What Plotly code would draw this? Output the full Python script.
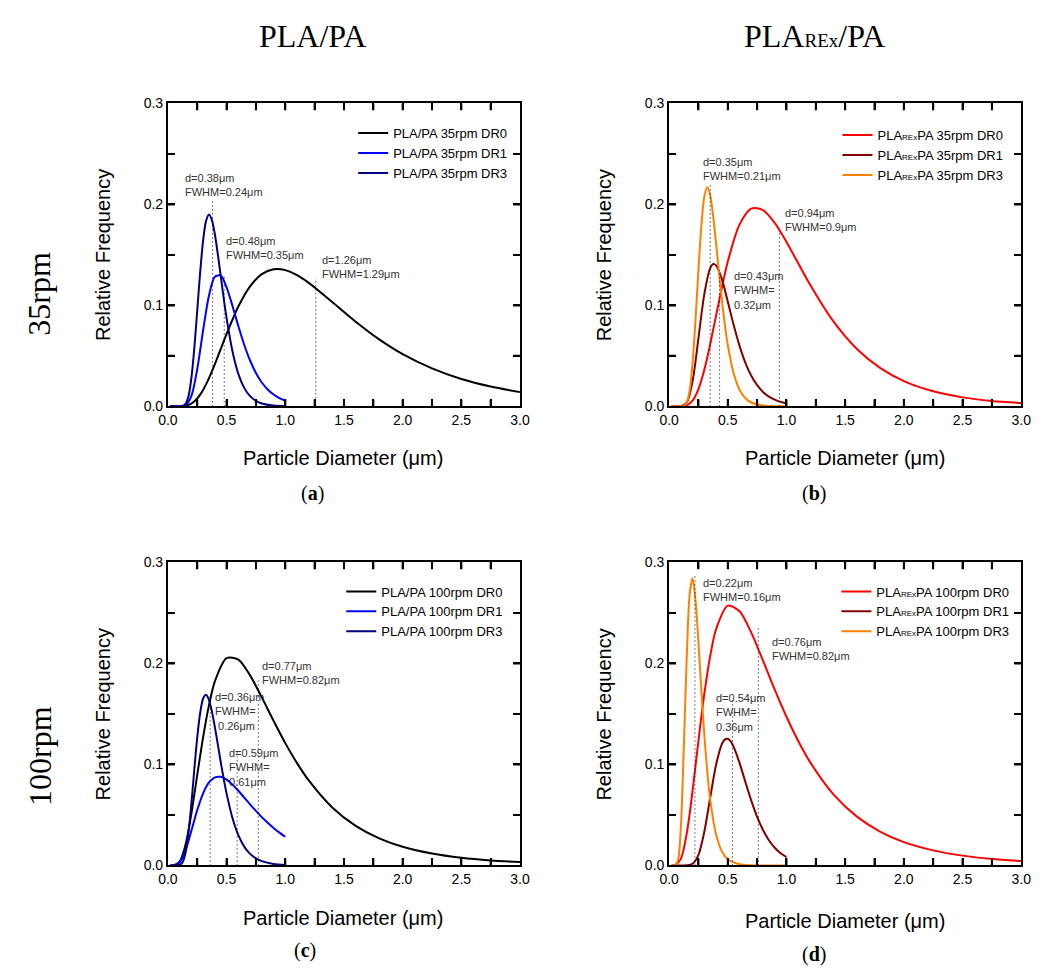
import plotly.graph_objects as go

# ---------------- data ----------------
x_long = [0.02, 0.05, 0.1, 0.15, 0.2, 0.25, 0.3, 0.35, 0.4, 0.5, 0.6, 0.7, 0.8, 0.9, 1.0,
          1.1, 1.2, 1.4, 1.6, 1.8, 2.0, 2.25, 2.5, 2.75, 3.0]

# (a) PLA/PA 35rpm
a_dr0_y = [0, 0, 0.0000, 0.0006, 0.0027, 0.0078, 0.0163, 0.0280, 0.0418, 0.0718, 0.0989, 0.1189,
           0.1309, 0.1357, 0.1349, 0.1299, 0.1223, 0.1033, 0.0838, 0.0663, 0.0517, 0.0376,
           0.0271, 0.0196, 0.0141]
a_dr1_x = [0.02, 0.1, 0.15, 0.2, 0.25, 0.3, 0.35, 0.4, 0.45, 0.5, 0.55, 0.6, 0.65, 0.7, 0.75,
           0.8, 0.85, 0.9, 0.95, 1.0]
a_dr1_y = [0, 0.0000, 0.0011, 0.0104, 0.0370, 0.0754, 0.1098, 0.1284, 0.1296, 0.1178, 0.0995,
           0.0795, 0.0610, 0.0454, 0.0331, 0.0236, 0.0167, 0.0117, 0.0081, 0.0056]
a_dr3_x = [0.02, 0.1, 0.125, 0.15, 0.175, 0.2, 0.225, 0.25, 0.275, 0.3, 0.325, 0.35, 0.375, 0.4,
           0.425, 0.45, 0.475, 0.5, 0.55, 0.6, 0.65, 0.7, 0.75, 0.8, 0.9, 1.0]
a_dr3_y = [0, 0.0000, 0.0003, 0.0024, 0.0101, 0.0280, 0.0576, 0.0951, 0.1331, 0.1643, 0.1837,
           0.1900, 0.1845, 0.1704, 0.1509, 0.1292, 0.1074, 0.0873, 0.0545, 0.0322, 0.0183,
           0.0101, 0.0055, 0.0029, 0.0008, 0.0002]

# (b) PLA_REx/PA 35rpm
b_dr0_y = [0, 0, 0.0000, 0.0010, 0.0056, 0.0170, 0.0362, 0.0615, 0.0899, 0.1434, 0.1800, 0.1958,
           0.1944, 0.1817, 0.1628, 0.1417, 0.1207, 0.0841, 0.0568, 0.0378, 0.0250, 0.0149,
           0.0089, 0.0054, 0.0033]
b_dr1_x = [0.02, 0.1, 0.15, 0.2, 0.25, 0.3, 0.35, 0.375, 0.4, 0.45, 0.5, 0.55, 0.6, 0.65, 0.7,
           0.75, 0.8, 0.85, 0.9, 0.95, 1.0]
b_dr1_y = [0, 0.0001, 0.0038, 0.0251, 0.0675, 0.1112, 0.1369, 0.1409, 0.1396, 0.1257, 0.1037,
           0.0805, 0.0599, 0.0431, 0.0303, 0.0210, 0.0143, 0.0097, 0.0066, 0.0044, 0.0029]
b_dr3_x = [0.02, 0.1, 0.125, 0.15, 0.175, 0.2, 0.225, 0.25, 0.275, 0.3, 0.325, 0.35, 0.375, 0.4,
           0.425, 0.45, 0.475, 0.5, 0.55, 0.6, 0.65, 0.7, 0.8, 0.9, 1.0]
b_dr3_y = [0, 0.0000, 0.0004, 0.0036, 0.0157, 0.0431, 0.0858, 0.1353, 0.1792, 0.2077, 0.2170,
           0.2090, 0.1886, 0.1615, 0.1325, 0.1050, 0.0808, 0.0608, 0.0325, 0.0165, 0.0081,
           0.0038, 0.0008, 0.0002, 0.0000]

# (c) PLA/PA 100rpm
c_dr0_y = [0, 0.0001, 0.0037, 0.0204, 0.0514, 0.0896, 0.1271, 0.1587, 0.1823, 0.2053, 0.2038,
           0.1882, 0.1664, 0.1432, 0.1211, 0.1013, 0.0841, 0.0574, 0.0391, 0.0267, 0.0184,
           0.0117, 0.0075, 0.0049, 0.0033]
c_dr1_x = [0.02, 0.05, 0.1, 0.15, 0.2, 0.25, 0.3, 0.35, 0.4, 0.45, 0.5, 0.55, 0.6, 0.65, 0.7,
           0.75, 0.8, 0.85, 0.9, 0.95, 1.0]
c_dr1_y = [0, 0.0001, 0.0029, 0.0149, 0.0344, 0.0548, 0.0714, 0.0821, 0.0872, 0.0877, 0.0850,
           0.0800, 0.0739, 0.0672, 0.0605, 0.0540, 0.0478, 0.0422, 0.0371, 0.0325, 0.0284]
c_dr3_x = [0.02, 0.1, 0.125, 0.15, 0.175, 0.2, 0.225, 0.25, 0.275, 0.3, 0.325, 0.35, 0.375, 0.4,
           0.425, 0.45, 0.475, 0.5, 0.55, 0.6, 0.65, 0.7, 0.75, 0.8, 0.9, 1.0]
c_dr3_y = [0, 0.0004, 0.0031, 0.0125, 0.0321, 0.0613, 0.0952, 0.1269, 0.1512, 0.1653, 0.1690,
           0.1638, 0.1523, 0.1370, 0.1198, 0.1024, 0.0860, 0.0711, 0.0469, 0.0299, 0.0186,
           0.0114, 0.0069, 0.0042, 0.0015, 0.0005]

# (d) PLA_REx/PA 100rpm
d_dr0_y = [0, 0.0002, 0.0065, 0.0315, 0.0742, 0.1236, 0.1699, 0.2073, 0.2339, 0.2573, 0.2517,
           0.2305, 0.2028, 0.1741, 0.1472, 0.1232, 0.1025, 0.0704, 0.0483, 0.0333, 0.0231,
           0.0149, 0.0097, 0.0064, 0.0043]
d_dr1_x = [0.02, 0.1, 0.15, 0.2, 0.25, 0.3, 0.35, 0.4, 0.45, 0.475, 0.5, 0.525, 0.55, 0.6, 0.65,
           0.7, 0.75, 0.8, 0.85, 0.9, 0.95, 1.0]
d_dr1_y = [0, 0.0000, 0.0001, 0.0016, 0.0105, 0.0334, 0.0671, 0.0996, 0.1203, 0.1248, 0.1254,
           0.1228, 0.1174, 0.1015, 0.0826, 0.0641, 0.0480, 0.0350, 0.0249, 0.0175, 0.0121, 0.0083]
d_dr3_x = [0.02, 0.05, 0.075, 0.1, 0.125, 0.15, 0.175, 0.2, 0.225, 0.25, 0.275, 0.3, 0.325, 0.35,
           0.4, 0.45, 0.5, 0.6, 0.7, 0.8, 1.0]
d_dr3_y = [0, 0.0001, 0.0047, 0.0380, 0.1154, 0.2063, 0.2683, 0.2843, 0.2626, 0.2204, 0.1729,
           0.1292, 0.0931, 0.0654, 0.0306, 0.0138, 0.0061, 0.0012, 0.0002, 0.0000, 0.0000]

# tick positions and labels
x_tickvals = [0, 0.25, 0.5, 0.75, 1.0, 1.25, 1.5, 1.75, 2.0, 2.25, 2.5, 2.75, 3.0]
x_ticktext = ["0.0", "", "0.5", "", "1.0", "", "1.5", "", "2.0", "", "2.5", "", "3.0"]
y_tickvals = [0, 0.05, 0.1, 0.15, 0.2, 0.25, 0.3]
y_ticktext = ["0.0", "", "0.1", "", "0.2", "", "0.3"]

# median diameters (dotted lines) and the height where each dotted line stops
a_marks = [(0.38, 0.203), (0.48, 0.128), (1.26, 0.127)]
b_marks = [(0.35, 0.219), (0.43, 0.135), (0.94, 0.173)]
c_marks = [(0.36, 0.170), (0.59, 0.112), (0.77, 0.183)]
d_marks = [(0.22, 0.287), (0.54, 0.164), (0.76, 0.235)]

# text labels: (text, x, y)
a_notes = [("d=0.38μm<br>FWHM=0.24μm", 0.126, 0.219),
           ("d=0.48μm<br>FWHM=0.35μm", 0.475, 0.157),
           ("d=1.26μm<br>FWHM=1.29μm", 1.297, 0.138)]
b_notes = [("d=0.35μm<br>FWHM=0.21μm", 0.271, 0.235),
           ("d=0.43μm<br>FWHM=<br>0.32μm", 0.536, 0.115),
           ("d=0.94μm<br>FWHM=0.9μm", 0.970, 0.185)]
c_notes = [("d=0.77μm<br>FWHM=0.82μm", 0.782, 0.191),
           ("d=0.36μm<br>FWHM=<br>&nbsp;0.26μm", 0.388, 0.152),
           ("d=0.59μm<br>FWHM=<br>0.61μm", 0.500, 0.097)]
d_notes = [("d=0.22μm<br>FWHM=0.16μm", 0.268, 0.273),
           ("d=0.76μm<br>FWHM=0.82μm", 0.863, 0.214),
           ("d=0.54μm<br>FWHM=<br>0.36μm", 0.380, 0.151)]

REX = "PLA<span style='font-size:8px'>REx</span>PA"
a_names = ["PLA/PA 35rpm DR0", "PLA/PA 35rpm DR1", "PLA/PA 35rpm DR3"]
b_names = [REX + " 35rpm DR0", REX + " 35rpm DR1", REX + " 35rpm DR3"]
c_names = ["PLA/PA 100rpm DR0", "PLA/PA 100rpm DR1", "PLA/PA 100rpm DR3"]
d_names = [REX + " 100rpm DR0", REX + " 100rpm DR1", REX + " 100rpm DR3"]

PLA_COLORS = ["#000000", "#0000FF", "#00007F"]
REX_COLORS = ["#FF0000", "#7F0000", "#FF8000"]

SANS = "Liberation Sans, Arial, sans-serif"
SERIF = "Liberation Serif, Times New Roman, serif"

W, H = 1043, 976
X_RANGE = [0, 3]
Y_RANGE = [0, 0.3]
TICK_PX = 7
PLOT_W_PX = 359
PLOT_H_PX = 308

fig = go.Figure()

panels = [
    ("x", "y", "legend", a_names, PLA_COLORS,
     [(x_long, a_dr0_y), (a_dr1_x, a_dr1_y), (a_dr3_x, a_dr3_y)], a_marks, a_notes),
    ("x2", "y2", "legend2", b_names, REX_COLORS,
     [(x_long, b_dr0_y), (b_dr1_x, b_dr1_y), (b_dr3_x, b_dr3_y)], b_marks, b_notes),
    ("x3", "y3", "legend3", c_names, PLA_COLORS,
     [(x_long, c_dr0_y), (c_dr1_x, c_dr1_y), (c_dr3_x, c_dr3_y)], c_marks, c_notes),
    ("x4", "y4", "legend4", d_names, REX_COLORS,
     [(x_long, d_dr0_y), (d_dr1_x, d_dr1_y), (d_dr3_x, d_dr3_y)], d_marks, d_notes),
]

# inward tick marks on all four sides, as shapes placed on the axis scales
fx = TICK_PX / PLOT_W_PX   # tick length as a fraction of the x domain
fy = TICK_PX / PLOT_H_PX   # tick length as a fraction of the y domain
TICK_LINE = dict(color="black", width=2)

shapes = []
annotations = []
for xa, ya, lg, names, colors, series, marks, notes in panels:
    xd = xa + " domain"
    yd = ya + " domain"
    for v in x_tickvals[1:-1]:
        shapes.append(dict(type="line", xref=xa, yref=yd, x0=v, x1=v, y0=0, y1=fy,
                           line=TICK_LINE, layer="above"))
        shapes.append(dict(type="line", xref=xa, yref=yd, x0=v, x1=v, y0=1, y1=1 - fy,
                           line=TICK_LINE, layer="above"))
    for v in y_tickvals[1:-1]:
        shapes.append(dict(type="line", xref=xd, yref=ya, x0=0, x1=fx, y0=v, y1=v,
                           line=TICK_LINE, layer="above"))
        shapes.append(dict(type="line", xref=xd, yref=ya, x0=1, x1=1 - fx, y0=v, y1=v,
                           line=TICK_LINE, layer="above"))
    for xv, top in marks:
        shapes.append(dict(type="line", xref=xa, yref=ya, x0=xv, x1=xv, y0=0, y1=top,
                           line=dict(color="black", width=1, dash="1px,3px"), layer="above"))
    for name, col, (xs, ys) in zip(names, colors, series):
        fig.add_trace(go.Scatter(x=xs, y=ys, mode="lines", name=name, xaxis=xa, yaxis=ya,
                                 legend=lg, line=dict(color=col, width=2, shape="spline",
                                                      smoothing=0.8)))
    for txt, xv, yv in notes:
        annotations.append(dict(text=txt, xref=xa, yref=ya, x=xv, y=yv, xanchor="left",
                                yanchor="middle", align="left", showarrow=False,
                                font=dict(family=SANS, size=11, color="#333333")))


def px_x(p):
    return p / W


def px_y(p):
    return 1 - p / H


def label(text, x, y, size, angle=0, family=SERIF):
    return dict(text=text, x=px_x(x), y=px_y(y), xref="paper", yref="paper",
                xanchor="center", yanchor="middle", showarrow=False, textangle=angle,
                font=dict(family=family, size=size, color="black"))


annotations += [
    label("PLA/PA", 308, 28, 32),
    label("PLA<span style='font-size:19px'>REx</span>/PA", 820, 28, 32),
    label("35rpm", 30, 290, 32, -90),
    label("100rpm", 30, 760, 32, -90),
    label("(<b>a</b>)", 308, 494, 20),
    label("(<b>b</b>)", 820, 494, 20),
    label("(<b>c</b>)", 301, 958, 20),
    label("(<b>d</b>)", 820, 962, 20),
    # axis titles
    label("Particle Diameter (μm)", 340, 458, 20, 0, SANS),
    label("Particle Diameter (μm)", 851, 458, 20, 0, SANS),
    label("Particle Diameter (μm)", 340, 925, 20, 0, SANS),
    label("Particle Diameter (μm)", 851, 928, 20, 0, SANS),
    label("Relative Frequency", 95, 251, 20, -90, SANS),
    label("Relative Frequency", 606, 251, 20, -90, SANS),
    label("Relative Frequency", 95, 718, 20, -90, SANS),
    label("Relative Frequency", 606, 718, 20, -90, SANS),
]

x_left = [px_x(161), px_x(520)]
x_right = [px_x(672), px_x(1031)]
y_top = [px_y(405), px_y(97)]
y_bot = [px_y(871.7), px_y(563.7)]

AXIS_STYLE = dict(showline=True, linecolor="black", linewidth=2, mirror="allticks",
                  ticks="inside", ticklen=TICK_PX, tickwidth=2, tickcolor="black",
                  showgrid=False, zeroline=False)


def xaxis(domain, anchor):
    d = dict(domain=domain, anchor=anchor, range=X_RANGE, tickmode="array",
             tickvals=x_tickvals, ticktext=x_ticktext)
    d.update(AXIS_STYLE)
    return d


def yaxis(domain, anchor):
    d = dict(domain=domain, anchor=anchor, range=Y_RANGE, tickmode="array",
             tickvals=y_tickvals, ticktext=y_ticktext)
    d.update(AXIS_STYLE)
    return d


def legend(xr, yt):
    return dict(x=xr, y=yt, xanchor="right", yanchor="top", bgcolor="rgba(0,0,0,0)",
                borderwidth=0, tracegroupgap=0, itemwidth=30,
                font=dict(family=SANS, size=13, color="black"))


fig.update_layout(
    width=W, height=H, margin=dict(l=0, r=0, t=0, b=0),
    font=dict(family=SANS, size=14, color="black"),
    paper_bgcolor="white", plot_bgcolor="white", showlegend=True,
    xaxis=xaxis(x_left, "y"), yaxis=yaxis(y_top, "x"),
    xaxis2=xaxis(x_right, "y2"), yaxis2=yaxis(y_top, "x2"),
    xaxis3=xaxis(x_left, "y3"), yaxis3=yaxis(y_bot, "x3"),
    xaxis4=xaxis(x_right, "y4"), yaxis4=yaxis(y_bot, "x4"),
    legend=legend(px_x(512), px_y(112)),
    legend2=legend(px_x(1018), px_y(114)),
    legend3=legend(px_x(508), px_y(578)),
    legend4=legend(px_x(1024), px_y(578)),
    shapes=shapes, annotations=annotations,
)

fig.write_html("out.html")
